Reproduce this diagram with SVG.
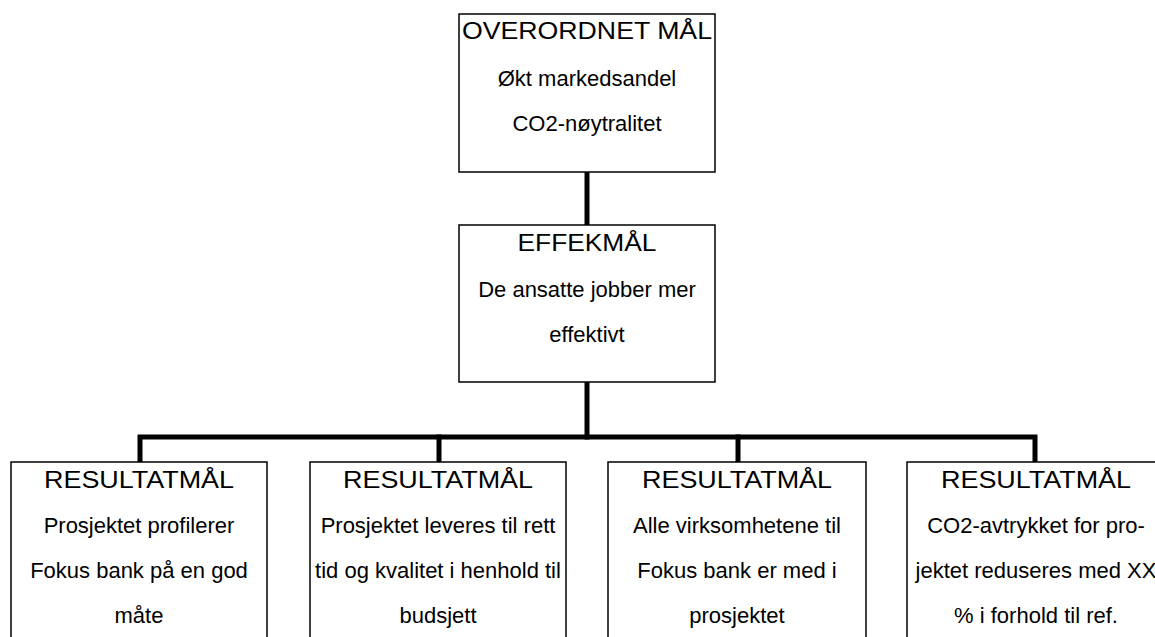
<svg xmlns="http://www.w3.org/2000/svg" width="1155" height="637" viewBox="0 0 1155 637">
  <style>
    .box { fill: #ffffff; stroke: #000000; stroke-width: 1.5; }
    .head { font-family: "Liberation Sans", Arial, sans-serif; font-size: 23px; fill: #000000; text-anchor: middle; }
    .body { font-family: "Liberation Sans", Arial, sans-serif; font-size: 22px; fill: #000000; text-anchor: middle; }
    .link { fill: none; stroke: #000000; stroke-width: 5; stroke-linejoin: miter; stroke-linecap: square; }
  </style>
  <rect width="1155" height="637" fill="#ffffff"/>

  <!-- connectors -->
  <g id="connectors">
    <line class="link" x1="587" y1="172" x2="587" y2="225"/>
    <line class="link" x1="587" y1="382" x2="587" y2="437"/>
    <polyline class="link" points="140,462 140,437 1035,437 1035,462"/>
    <line class="link" x1="439" y1="437" x2="439" y2="462"/>
    <line class="link" x1="738" y1="437" x2="738" y2="462"/>
  </g>

  <!-- overall goal -->
  <g id="overordnet">
    <rect class="box" x="459" y="14" width="256" height="158"/>
    <text class="head" x="587" y="39" textLength="250" lengthAdjust="spacingAndGlyphs">OVERORDNET MÅL</text>
    <text class="body" x="587" y="86">Økt markedsandel</text>
    <text class="body" x="587" y="131">CO2-nøytralitet</text>
  </g>

  <!-- effect goal -->
  <g id="effektmal">
    <rect class="box" x="459" y="225" width="256" height="157"/>
    <text class="head" x="587" y="251" textLength="139" lengthAdjust="spacingAndGlyphs">EFFEKMÅL</text>
    <text class="body" x="587" y="297">De ansatte jobber mer</text>
    <text class="body" x="587" y="342">effektivt</text>
  </g>

  <!-- result goals -->
  <g id="resultat1">
    <rect class="box" x="11" y="462" width="256" height="190"/>
    <text class="head" x="139" y="488" textLength="190" lengthAdjust="spacingAndGlyphs">RESULTATMÅL</text>
    <text class="body" x="139" y="533">Prosjektet profilerer</text>
    <text class="body" x="139" y="578">Fokus bank på en god</text>
    <text class="body" x="139" y="623">måte</text>
  </g>

  <g id="resultat2">
    <rect class="box" x="310" y="462" width="256" height="190"/>
    <text class="head" x="438" y="488" textLength="190" lengthAdjust="spacingAndGlyphs">RESULTATMÅL</text>
    <text class="body" x="438" y="533">Prosjektet leveres til rett</text>
    <text class="body" x="438" y="578">tid og kvalitet i henhold til</text>
    <text class="body" x="438" y="623">budsjett</text>
  </g>

  <g id="resultat3">
    <rect class="box" x="608" y="462" width="258" height="190"/>
    <text class="head" x="737" y="488" textLength="190" lengthAdjust="spacingAndGlyphs">RESULTATMÅL</text>
    <text class="body" x="737" y="533">Alle virksomhetene til</text>
    <text class="body" x="737" y="578">Fokus bank er med i</text>
    <text class="body" x="737" y="623">prosjektet</text>
  </g>

  <g id="resultat4">
    <rect class="box" x="907" y="462" width="258" height="190"/>
    <text class="head" x="1036" y="488" textLength="190" lengthAdjust="spacingAndGlyphs">RESULTATMÅL</text>
    <text class="body" x="1036" y="533">CO2-avtrykket for pro-</text>
    <text class="body" x="1036" y="578">jektet reduseres med XX</text>
    <text class="body" x="1036" y="623">% i forhold til ref.</text>
  </g>
</svg>
